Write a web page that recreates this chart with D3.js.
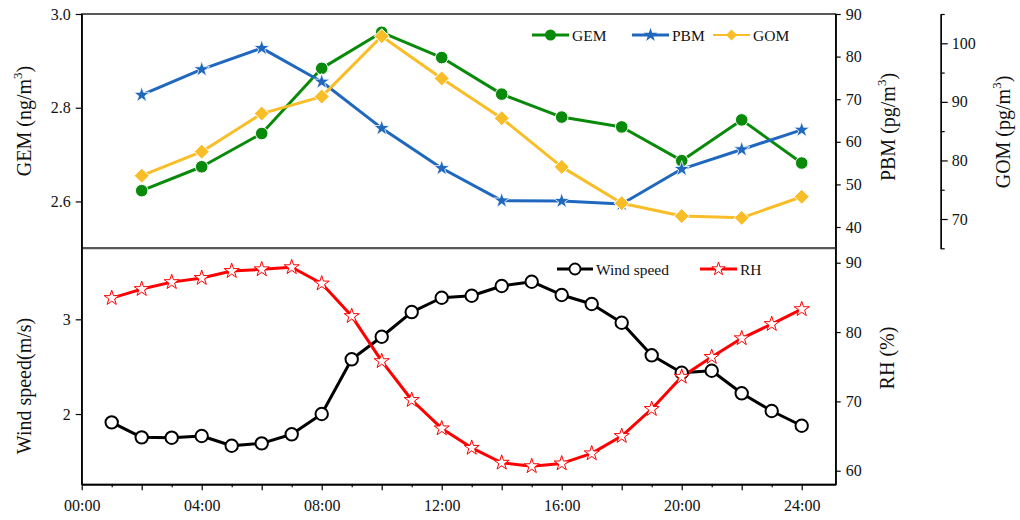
<!DOCTYPE html>
<html>
<head>
<meta charset="utf-8">
<script src="https://cdn.jsdelivr.net/npm/d3@7/dist/d3.min.js"></script>
<style>
  html, body { margin: 0; padding: 0; background: #fff; }
  svg { display: block; font-family: "Liberation Serif", "Times New Roman", serif; }
</style>
</head>
<body>
<svg id="chart" width="1020" height="520"></svg>
<script>
// Mercury species, sampled every two hours
const hours2 = [2, 4, 6, 8, 10, 12, 14, 16, 18, 20, 22, 24];
const gem = [2.623, 2.674, 2.745, 2.884, 2.961, 2.907, 2.829, 2.780, 2.759, 2.687, 2.774, 2.682];
const pbm = [71.0, 77.0, 82.0, 74.1, 63.2, 53.8, 46.2, 46.1, 45.4, 53.6, 58.2, 62.8];
const gom = [77.4, 81.5, 88.0, 90.9, 101.2, 94.0, 87.2, 78.9, 72.7, 70.5, 70.2, 73.8];

// Meteorology, sampled hourly
const hours1 = d3.range(1, 25);
const wind = [1.912, 1.754, 1.750, 1.768, 1.665, 1.690, 1.786, 2.000, 2.578, 2.816, 3.077, 3.228,
              3.249, 3.352, 3.397, 3.257, 3.162, 2.964, 2.620, 2.436, 2.457, 2.219, 2.032, 1.876];
const rh = [84.9, 86.2, 87.2, 87.8, 88.8, 89.05, 89.35, 87.0, 82.3, 75.8, 70.2, 66.1,
            63.3, 61.15, 60.65, 61.05, 62.5, 65.0, 68.9, 73.55, 76.4, 79.1, 81.15, 83.3];

// Axis ticks
const xTickHours = [0, 4, 8, 12, 16, 20, 24];
const gemTicks = [2.6, 2.8, 3.0];
const pbmTicks = [40, 50, 60, 70, 80, 90];
const gomTicks = [70, 80, 90, 100];
const gomMinorTicks = [65, 75, 85, 95, 105];
const windTicks = [2, 3];
const rhTicks = [60, 70, 80, 90];

const svg = d3.select("#chart");
const L = 81.7, R = 835.7;
const topY0 = 14, topY1 = 248.3, botY0 = 248.3, botY1 = 484.3;

const x = d3.scaleLinear().domain([0, 25.133]).range([L, R]);
const yGem = d3.scaleLinear().domain([2.5, 3.0]).range([topY1, topY0]);
const yPbm = d3.scaleLinear().domain([35, 90]).range([topY1, topY0]);
const yGom = d3.scaleLinear().domain([65, 105]).range([topY1, topY0]);
const yWind = d3.scaleLinear().domain([1.258, 3.75]).range([botY1, botY0]);
const yRh = d3.scaleLinear().domain([58.04, 92.08]).range([botY1, botY0]);

const cGem = "#0a8a0a", cPbm = "#1f68bd", cGom = "#f9be27", cWind = "#000", cRh = "#ff0000";
const tickFont = 16;

function styleAxis(g) {
  g.selectAll(".domain").attr("stroke", "#000").attr("stroke-width", 1.3);
  g.selectAll(".tick line").attr("stroke", "#000").attr("stroke-width", 1.2);
  g.selectAll(".tick text").attr("font-size", tickFont).attr("font-family", "Liberation Serif").attr("fill", "#111");
}

// ---- frames ----
svg.append("rect").attr("x", L).attr("y", topY0).attr("width", R - L).attr("height", topY1 - topY0)
  .attr("fill", "none").attr("stroke", "#000").attr("stroke-width", 1.3);
svg.append("rect").attr("x", L).attr("y", botY0).attr("width", R - L).attr("height", botY1 - botY0)
  .attr("fill", "none").attr("stroke", "#000").attr("stroke-width", 1.3);
svg.append("line").attr("x1", L).attr("x2", R).attr("y1", topY1).attr("y2", topY1)
  .attr("stroke", "#555").attr("stroke-width", 2);

// ---- axes: top panel ----
svg.append("g").attr("transform", `translate(${L},0)`)
  .call(d3.axisLeft(yGem).tickValues(gemTicks).tickFormat(d3.format(".1f")).tickSize(6).tickSizeOuter(0).tickPadding(5))
  .call(styleAxis);
svg.append("g").attr("transform", `translate(${R},0)`)
  .call(d3.axisRight(yPbm).tickValues(pbmTicks).tickSize(5).tickSizeOuter(0).tickPadding(5))
  .call(styleAxis);
const gomX = 940.7;
svg.append("g").attr("transform", `translate(${gomX},0)`)
  .call(d3.axisRight(yGom).tickValues(gomMinorTicks).tickFormat("").tickSize(4).tickSizeOuter(0))
  .call(styleAxis);
svg.append("g").attr("transform", `translate(${gomX},0)`)
  .call(d3.axisRight(yGom).tickValues(gomTicks).tickSize(7).tickSizeOuter(0).tickPadding(4))
  .call(styleAxis);

// ---- axes: bottom panel ----
svg.append("g").attr("transform", `translate(${L},0)`)
  .call(d3.axisLeft(yWind).tickValues(windTicks).tickFormat(d3.format("d")).tickSize(6).tickSizeOuter(0).tickPadding(5))
  .call(styleAxis);
svg.append("g").attr("transform", `translate(${R},0)`)
  .call(d3.axisRight(yRh).tickValues(rhTicks).tickSize(5).tickSizeOuter(0).tickPadding(5))
  .call(styleAxis);
svg.append("g").attr("transform", `translate(0,${botY1})`)
  .call(d3.axisBottom(x).tickValues(d3.range(1, 25, 2)).tickFormat("").tickSize(3).tickSizeOuter(0))
  .call(styleAxis);
svg.append("g").attr("transform", `translate(0,${botY1})`)
  .call(d3.axisBottom(x).tickValues(d3.range(0, 26, 2)).tickFormat(d => xTickHours.includes(d) ? String(d).padStart(2, "0") + ":00" : "")
    .tickSize(6).tickSizeOuter(0).tickPadding(9))
  .call(styleAxis);

// ---- axis titles ----
function vTitle(cx, cy, parts) {
  const t = svg.append("text").attr("transform", `translate(${cx},${cy}) rotate(-90)`)
    .attr("text-anchor", "middle").attr("dominant-baseline", "central")
    .attr("font-size", 20).attr("fill", "#111");
  parts.forEach(p => {
    const s = t.append("tspan").text(p.t);
    if (p.sup) s.attr("font-size", 13).attr("dy", -7);
    if (p.after) s.attr("dy", 7);
  });
}
vTitle(24, 121, [{t: "GEM (ng/m"}, {t: "3", sup: true}, {t: ")", after: true}]);
vTitle(888, 127, [{t: "PBM  (pg/m"}, {t: "3", sup: true}, {t: ")", after: true}]);
vTitle(1003, 132, [{t: "GOM  (pg/m"}, {t: "3", sup: true}, {t: ")", after: true}]);
vTitle(24, 386, [{t: "Wind speed(m/s)"}]);
vTitle(887, 358, [{t: "RH (%)"}]);

// ---- marker helpers ----
const starSym = d3.symbol().type(d3.symbolStar);
const diamondPath = r => `M0,${-r}L${r},0L0,${r}L${-r},0Z`;

function series(xs, ys, xScale, yScale, color, width) {
  svg.append("path").datum(xs.map((h, i) => [h, ys[i]]))
    .attr("fill", "none").attr("stroke", color).attr("stroke-width", width).attr("stroke-linejoin", "round")
    .attr("d", d3.line().x(d => xScale(d[0])).y(d => yScale(d[1])));
}

// ---- top panel series ----
series(hours2, gem, x, yGem, cGem, 3);
series(hours2, pbm, x, yPbm, cPbm, 3);
series(hours2, gom, x, yGom, cGom, 3);

svg.append("g").selectAll("circle").data(hours2.map((h, i) => [h, gem[i]])).join("circle")
  .attr("cx", d => x(d[0])).attr("cy", d => yGem(d[1])).attr("r", 6.3)
  .attr("fill", cGem).attr("stroke", "#fff").attr("stroke-width", 1);
svg.append("g").selectAll("path").data(hours2.map((h, i) => [h, pbm[i]])).join("path")
  .attr("transform", d => `translate(${x(d[0])},${yPbm(d[1])})`)
  .attr("d", starSym.size(80)()).attr("fill", cPbm).attr("stroke", "#fff").attr("stroke-width", 0.8);
svg.append("g").selectAll("path").data(hours2.map((h, i) => [h, gom[i]])).join("path")
  .attr("transform", d => `translate(${x(d[0])},${yGom(d[1])})`)
  .attr("d", diamondPath(7.5)).attr("fill", cGom).attr("stroke", "#fff").attr("stroke-width", 1);

// ---- bottom panel series ----
series(hours1, wind, x, yWind, cWind, 3);
series(hours1, rh, x, yRh, cRh, 3);

svg.append("g").selectAll("circle").data(hours1.map((h, i) => [h, wind[i]])).join("circle")
  .attr("cx", d => x(d[0])).attr("cy", d => yWind(d[1])).attr("r", 6.2)
  .attr("fill", "#fff").attr("stroke", cWind).attr("stroke-width", 2);
svg.append("g").selectAll("path").data(hours1.map((h, i) => [h, rh[i]])).join("path")
  .attr("transform", d => `translate(${x(d[0])},${yRh(d[1])})`)
  .attr("d", starSym.size(70)()).attr("fill", "#fff").attr("stroke", cRh).attr("stroke-width", 1);

// ---- legends ----
function legendItem(x0, y0, len, color, lw, marker, label) {
  svg.append("line").attr("x1", x0).attr("x2", x0 + len).attr("y1", y0).attr("y2", y0)
    .attr("stroke", color).attr("stroke-width", lw);
  const m = svg.append("g").attr("transform", `translate(${x0 + len / 2},${y0})`);
  marker(m);
  svg.append("text").attr("x", x0 + len + 3).attr("y", y0).attr("dominant-baseline", "central")
    .attr("font-size", 15.5).attr("fill", "#111").text(label);
}
legendItem(532, 35, 37, cGem, 3, g => g.append("circle").attr("r", 5.5).attr("fill", cGem), "GEM");
legendItem(632, 35, 37, cPbm, 3, g => g.append("path").attr("d", starSym.size(60)()).attr("fill", cPbm), "PBM");
legendItem(713, 35, 37, cGom, 2, g => g.append("path").attr("d", diamondPath(5.5)).attr("fill", cGom), "GOM");
legendItem(557, 269, 36, cWind, 3, g => g.append("circle").attr("r", 5.5).attr("fill", "#fff").attr("stroke", cWind).attr("stroke-width", 1.8), "Wind speed");
legendItem(700, 269, 37, cRh, 3, g => g.append("path").attr("d", starSym.size(55)()).attr("fill", "#fff").attr("stroke", cRh).attr("stroke-width", 1), "RH");
</script>
</body>
</html>
